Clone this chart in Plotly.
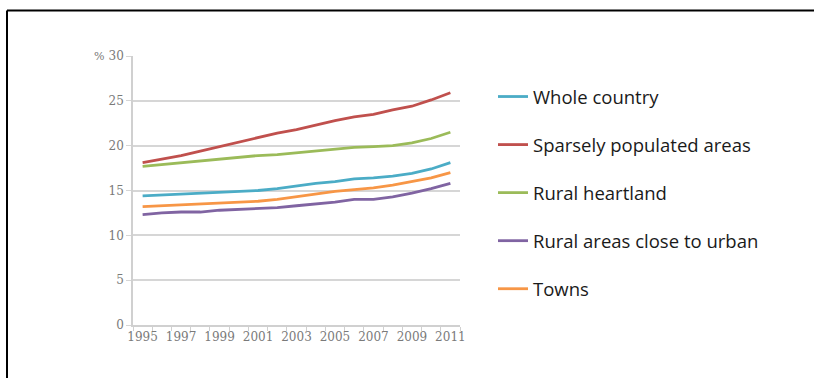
import plotly.graph_objects as go

years = list(range(1995, 2012))
whole_country = [14.4, 14.5, 14.6, 14.7, 14.8, 14.9, 15.0, 15.2, 15.5, 15.8, 16.0, 16.3, 16.4, 16.6, 16.9, 17.4, 18.1]
sparsely = [18.1, 18.5, 18.9, 19.4, 19.9, 20.4, 20.9, 21.4, 21.8, 22.3, 22.8, 23.2, 23.5, 24.0, 24.4, 25.1, 25.9]
rural_heartland = [17.7, 17.9, 18.1, 18.3, 18.5, 18.7, 18.9, 19.0, 19.2, 19.4, 19.6, 19.8, 19.9, 20.0, 20.3, 20.8, 21.5]
rural_close = [12.3, 12.5, 12.6, 12.6, 12.8, 12.9, 13.0, 13.1, 13.3, 13.5, 13.7, 14.0, 14.0, 14.3, 14.7, 15.2, 15.8]
towns = [13.2, 13.3, 13.4, 13.5, 13.6, 13.7, 13.8, 14.0, 14.3, 14.6, 14.9, 15.1, 15.3, 15.6, 16.0, 16.4, 17.0]

series = [
    ("Whole country", whole_country, "#4BACC6"),
    ("Sparsely populated areas", sparsely, "#C0504D"),
    ("Rural heartland", rural_heartland, "#9BBB59"),
    ("Rural areas close to urban", rural_close, "#8064A2"),
    ("Towns", towns, "#F79646"),
]
x_labels = [str(y) for y in years[::2]]
y_ticks = [0, 5, 10, 15, 20, 25, 30]

fig = go.Figure()
for i, (name, vals, col) in enumerate(series):
    fig.add_trace(go.Scatter(x=years, y=vals, name=name, mode="lines",
                             line=dict(color=col, width=2.8),
                             legendgroup=f"g{i}"))

L, R, T, B = 133, 354, 56, 53
W, H = 814, 378
pw, ph = W - L - R, H - T - B

def px(xp):
    return (xp - L) / pw

def py(yp):
    return (H - B - yp) / ph

tick_font = dict(family="DejaVu Serif, serif", size=12, color="#7a7a7a")

fig.update_layout(
    width=W, height=H,
    margin=dict(l=L, r=R, t=T, b=B),
    paper_bgcolor="white", plot_bgcolor="white",
    font=dict(family="'Open Sans', sans-serif", color="#222222"),
    showlegend=True,
    legend=dict(x=px(493), y=py(78), xanchor="left", yanchor="top",
                font=dict(family="'Open Sans', sans-serif", size=18.5, color="#1a1a1a"),
                tracegroupgap=21, itemwidth=30, bgcolor="rgba(0,0,0,0)"),
    xaxis=dict(range=[1994.5, 2011.5], tickmode="array",
               tickvals=years[::2], ticktext=x_labels,
               ticks="", showgrid=False, showline=True,
               linecolor="#d0d0d0", linewidth=1.5,
               tickfont=tick_font,
               minor=dict(tickmode="linear", tick0=1994.5, dtick=1,
                          ticks="outside", ticklen=4, tickcolor="#d0d0d0", showgrid=False),
               zeroline=False, fixedrange=True),
    yaxis=dict(range=[0, 30], tickmode="array", tickvals=y_ticks,
               ticks="outside", ticklen=5, tickcolor="#d6d6d6",
               showgrid=True, gridcolor="#d6d6d6", gridwidth=1.5,
               showline=True, linecolor="#d0d0d0", linewidth=1.5,
               tickfont=tick_font,
               zeroline=False, fixedrange=True),
)

fig.add_annotation(text="%", xref="paper", yref="paper", x=px(99), y=py(56),
                   xanchor="center", yanchor="middle", showarrow=False,
                   font=dict(family="DejaVu Serif, serif", size=11, color="#7a7a7a"))

fig.add_shape(type="line", xref="paper", yref="paper",
              x0=px(7), x1=px(820), y0=py(10.5), y1=py(10.5),
              line=dict(color="black", width=2))
fig.add_shape(type="line", xref="paper", yref="paper",
              x0=px(7), x1=px(7), y0=py(10.5), y1=py(390),
              line=dict(color="black", width=2))

fig.write_html("out.html", config={"displayModeBar": False},
               post_script="document.body.style.margin='0';document.body.style.overflow='hidden';")
